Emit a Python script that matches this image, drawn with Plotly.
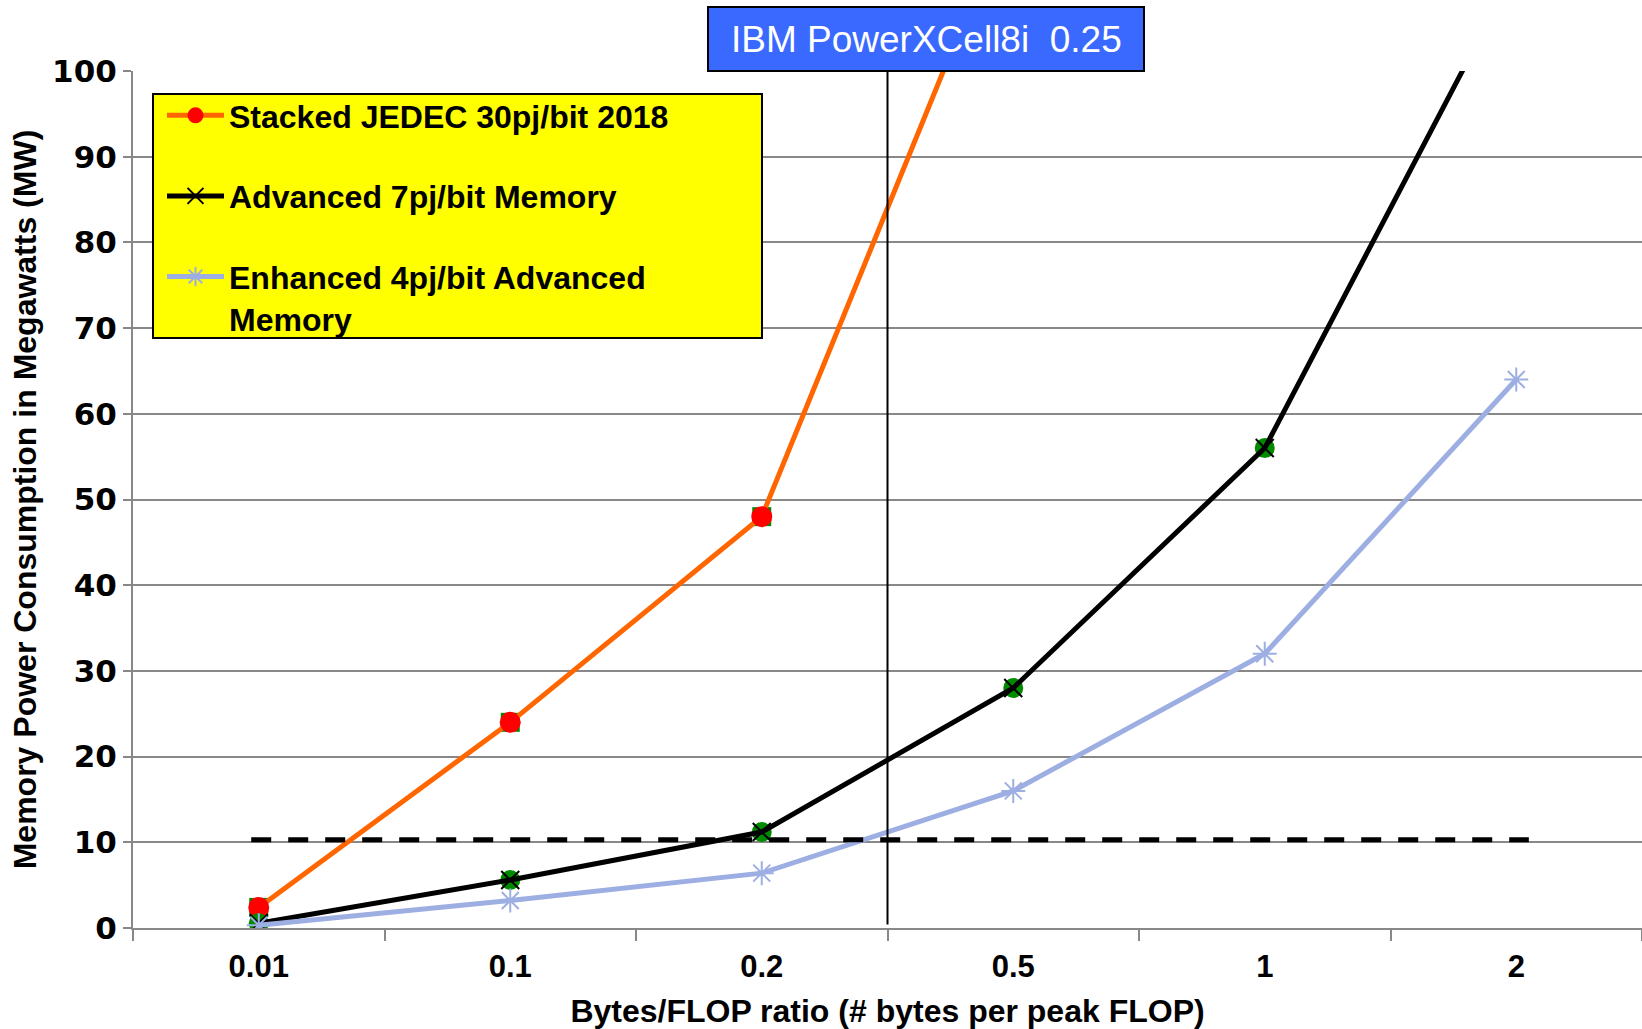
import plotly.graph_objects as go

# ---- data ----
ratios = ["0.01", "0.1", "0.2", "0.5", "1", "2"]
stacked_jedec = [2.4, 24, 48, 120, 240, 480]
advanced_7pj = [0.56, 5.6, 11.2, 28, 56, 112]
enhanced_4pj = [0.32, 3.2, 6.4, 16, 32, 64]
y_ticks = [0, 10, 20, 30, 40, 50, 60, 70, 80, 90, 100]
power_budget_mw = 10.3
ibm_label = "IBM PowerXCell8i  0.25"
ibm_between = ("0.2", "0.5")

W, H = 1642, 1029
ML, MR, MT, MB = 133, 0, 71, 101
pw = W - ML - MR
ph = H - MT - MB

def px_x(px):
    return (px - ML) / pw

def px_y(py):
    return (H - MB - py) / ph

fig = go.Figure()

# underlay markers (green) seen behind the markers in the original
fig.add_trace(go.Scatter(x=ratios, y=stacked_jedec, mode="markers",
                         marker=dict(symbol="square", size=19, color="#008A00"),
                         showlegend=False, legendgroup="a", hoverinfo="skip"))
fig.add_trace(go.Scatter(x=ratios, y=stacked_jedec, mode="lines+markers",
                         name="Stacked JEDEC 30pj/bit 2018", legendgroup="a",
                         line=dict(color="#FF6600", width=5),
                         marker=dict(symbol="circle", size=21, color="#FF0000")))

fig.add_trace(go.Scatter(x=ratios, y=advanced_7pj, mode="markers",
                         marker=dict(symbol="circle", size=20, color="#008A00"),
                         showlegend=False, legendgroup="b", hoverinfo="skip"))
fig.add_trace(go.Scatter(x=ratios, y=advanced_7pj, mode="lines+markers",
                         name="Advanced 7pj/bit Memory", legendgroup="b",
                         line=dict(color="#000000", width=5),
                         marker=dict(symbol="x-thin", size=18,
                                     line=dict(color="#000000", width=2))))

fig.add_trace(go.Scatter(x=ratios, y=enhanced_4pj, mode="lines+markers",
                         name="Enhanced 4pj/bit Advanced<br>Memory", legendgroup="c",
                         line=dict(color="#9DAEE3", width=5),
                         marker=dict(symbol="asterisk-open", size=20,
                                     line=dict(color="#9DAEE3", width=2))))

i0 = ratios.index(ibm_between[0])
i1 = ratios.index(ibm_between[1])
ibm_x = (i0 + i1) / 2

shapes = [
    # vertical IBM marker line
    dict(type="line", xref="x", yref="y", x0=ibm_x, x1=ibm_x, y0=0.4, y1=y_ticks[-1],
         line=dict(color="black", width=2), layer="above"),
    # dashed power budget line
    dict(type="line", xref="x", yref="y", x0=-0.03, x1=len(ratios) - 0.95,
         y0=power_budget_mw, y1=power_budget_mw,
         line=dict(color="black", width=5, dash="20px,17px"), layer="above"),
    # legend box
    dict(type="rect", xref="paper", yref="paper",
         x0=px_x(153), x1=px_x(762), y0=px_y(338), y1=px_y(94),
         fillcolor="#FFFF00", line=dict(color="black", width=2), layer="above"),
    # title box
    dict(type="rect", xref="paper", yref="paper",
         x0=px_x(708), x1=px_x(1144), y0=px_y(71), y1=px_y(7),
         fillcolor="#3A69FF", line=dict(color="black", width=2), layer="above"),
]

annotations = [
    dict(text=ibm_label, xref="paper", yref="paper", x=px_x(926), y=px_y(39),
         xanchor="center", yanchor="middle", showarrow=False,
         font=dict(family="Liberation Sans, Arial, sans-serif", size=37, color="white")),
]

bold = dict(family="Liberation Sans, Arial, sans-serif", weight="bold", color="black")

fig.update_layout(
    width=W, height=H,
    margin=dict(l=ML, r=MR, t=MT, b=MB, pad=0),
    paper_bgcolor="white", plot_bgcolor="white",
    shapes=shapes, annotations=annotations,
    showlegend=True,
    legend=dict(x=px_x(162), y=px_y(88), xanchor="left", yanchor="top",
                bgcolor="rgba(0,0,0,0)", borderwidth=0,
                font=dict(size=32, **bold),
                traceorder="grouped", tracegroupgap=36, valign="top",
                itemwidth=57),
    xaxis=dict(type="category", range=[-0.5, len(ratios) - 0.5],
               showgrid=False, zeroline=False,
               showline=True, linecolor="#888888", linewidth=2,
               ticks="outside", tickson="boundaries", ticklen=11,
               tickcolor="#888888", tickwidth=2,
               ticklabelstandoff=10,
               tickfont=dict(size=31, **bold),
               title=dict(text="Bytes/FLOP ratio (# bytes per peak FLOP)",
                          font=dict(size=32, **bold), standoff=16)),
    yaxis=dict(range=[0, 100], tickvals=y_ticks,
               showgrid=True, gridcolor="#888888", gridwidth=2,
               zeroline=False,
               showline=True, linecolor="#888888", linewidth=2,
               ticks="outside", ticklen=8, tickcolor="#888888", tickwidth=2,
               tickfont=dict(family="DejaVu Sans, Verdana, sans-serif", size=31,
                             weight="bold", color="black"),
               title=dict(text="Memory Power Consumption in Megawatts (MW)",
                          font=dict(size=32, **bold), standoff=6)),
)

fig.write_html("out.html", config={"displayModeBar": False},
               post_script="document.body.style.margin='0';")
